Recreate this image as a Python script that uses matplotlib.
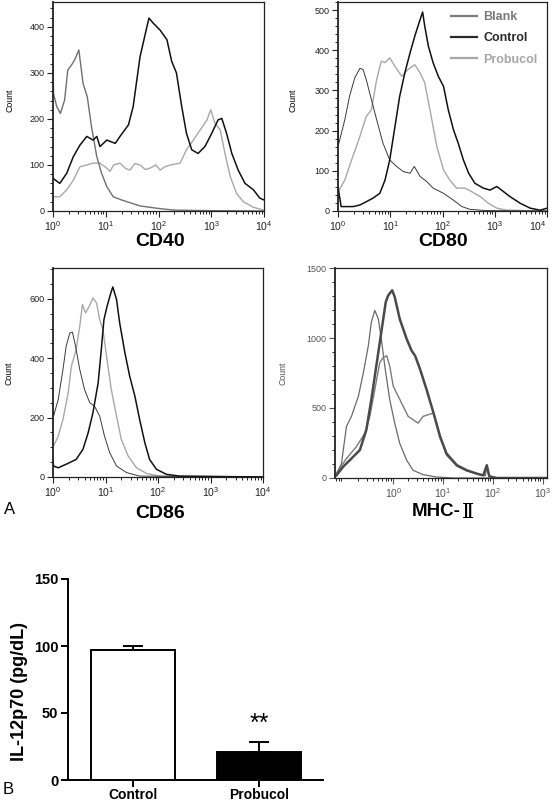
import numpy as np
import matplotlib.pyplot as plt
from matplotlib.lines import Line2D
from matplotlib.ticker import MultipleLocator, LogLocator, NullFormatter, FixedLocator

plt.rcParams['font.family'] = ['Liberation Sans', 'DejaVu Sans']

# ---- flow cytometry histograms: log10(intensity) and count ----
cd40_blank_lx = [0.0, 0.01, 0.07, 0.14, 0.22, 0.28, 0.35, 0.41, 0.49, 0.57, 0.65, 0.73, 0.83, 0.92, 1.02, 1.14, 1.30, 1.46, 1.65, 1.97, 2.28, 2.79, 4.0]
cd40_blank_n = [335, 255, 227, 212, 241, 306, 317, 328, 350, 277, 248, 183, 118, 82, 53, 31, 24, 18, 11, 6, 2, 1, 0]
cd40_ctrl_lx = [0.0, 0.13, 0.26, 0.385, 0.51, 0.64, 0.76, 0.83, 0.89, 1.02, 1.18, 1.27, 1.43, 1.52, 1.65, 1.78, 1.82, 1.90, 2.03, 2.16, 2.25, 2.34, 2.44, 2.53, 2.63, 2.75, 2.88, 3.01, 3.13, 3.20, 3.29, 3.39, 3.51, 3.64, 3.80, 3.92, 4.0]
cd40_ctrl_n = [71, 60, 82, 118, 143, 162, 154, 162, 140, 154, 147, 162, 187, 227, 335, 400, 419, 408, 393, 372, 325, 300, 227, 169, 133, 125, 140, 169, 198, 201, 169, 125, 89, 60, 46, 28, 24]
cd40_prob_lx = [0.0, 0.13, 0.26, 0.385, 0.51, 0.64, 0.76, 0.89, 1.0, 1.08, 1.15, 1.27, 1.38, 1.46, 1.55, 1.65, 1.75, 1.84, 1.95, 2.03, 2.12, 2.22, 2.41, 2.53, 2.66, 2.79, 2.92, 2.99, 3.07, 3.17, 3.26, 3.36, 3.48, 3.61, 3.80, 3.99]
cd40_prob_n = [31, 31, 46, 67, 96, 100, 104, 104, 95, 86, 100, 104, 92, 89, 103, 100, 90, 93, 100, 89, 96, 100, 104, 133, 154, 176, 198, 220, 191, 176, 125, 75, 38, 20, 8, 2]

cd80_blank_lx = [0.0, 0.01, 0.13, 0.22, 0.32, 0.42, 0.48, 0.54, 0.64, 0.74, 0.86, 0.99, 1.12, 1.25, 1.38, 1.46, 1.57, 1.70, 1.82, 2.02, 2.21, 2.37, 2.53, 2.85, 4.0]
cd80_blank_n = [330, 165, 227, 285, 331, 355, 352, 327, 277, 227, 169, 127, 111, 98, 94, 111, 86, 73, 57, 44, 27, 11, 4, 1, 0]
cd80_ctrl_lx = [0.0, 0.06, 0.29, 0.42, 0.54, 0.67, 0.80, 0.90, 0.99, 1.09, 1.18, 1.28, 1.38, 1.47, 1.55, 1.62, 1.66, 1.73, 1.82, 1.92, 2.02, 2.11, 2.21, 2.30, 2.40, 2.50, 2.62, 2.78, 2.91, 3.04, 3.17, 3.29, 3.49, 3.68, 3.87, 4.0]
cd80_ctrl_n = [60, 11, 11, 15, 23, 32, 44, 77, 127, 210, 285, 344, 394, 435, 468, 495, 460, 410, 369, 335, 310, 252, 202, 169, 127, 94, 69, 57, 52, 61, 48, 36, 19, 7, 2, 7]
cd80_prob_lx = [0.02, 0.13, 0.26, 0.42, 0.54, 0.64, 0.74, 0.83, 0.90, 0.99, 1.09, 1.22, 1.34, 1.47, 1.57, 1.66, 1.76, 1.89, 2.02, 2.14, 2.27, 2.43, 2.56, 2.72, 2.88, 3.04, 3.23, 4.0]
cd80_prob_n = [52, 77, 127, 186, 235, 252, 327, 373, 369, 381, 360, 335, 352, 364, 344, 319, 252, 161, 102, 77, 57, 57, 48, 36, 19, 7, 2, 0]

cd86_blank_lx = [0.0, 0.01, 0.10, 0.19, 0.25, 0.32, 0.37, 0.43, 0.51, 0.60, 0.70, 0.79, 0.89, 0.98, 1.08, 1.21, 1.40, 1.65, 4.0]
cd86_blank_n = [230, 205, 261, 362, 440, 485, 488, 440, 362, 295, 250, 239, 205, 138, 82, 37, 15, 3, 0]
cd86_ctrl_lx = [0.0, 0.01, 0.10, 0.25, 0.44, 0.57, 0.67, 0.76, 0.86, 0.92, 0.97, 1.03, 1.11, 1.14, 1.21, 1.27, 1.37, 1.46, 1.56, 1.65, 1.75, 1.84, 1.97, 2.16, 2.41, 4.0]
cd86_ctrl_n = [60, 37, 31, 43, 59, 93, 149, 216, 317, 429, 530, 575, 625, 640, 598, 519, 418, 340, 272, 194, 115, 59, 26, 9, 3, 0]
cd86_prob_lx = [0.0, 0.01, 0.10, 0.19, 0.29, 0.35, 0.44, 0.51, 0.56, 0.62, 0.69, 0.76, 0.83, 0.89, 0.95, 1.02, 1.11, 1.21, 1.30, 1.43, 1.59, 1.78, 2.03, 4.0]
cd86_prob_n = [150, 104, 138, 194, 284, 373, 429, 508, 581, 553, 575, 603, 586, 530, 497, 407, 295, 205, 127, 71, 31, 12, 3, 0]

mhc_blank_lx = [-1.14, -1.04, -0.94, -0.84, -0.70, -0.60, -0.50, -0.44, -0.37, -0.30, -0.23, -0.17, -0.07, 0.03, 0.13, 0.27, 0.40, 0.60, 0.87, 1.21, 3.09]
mhc_blank_n = [31, 103, 368, 440, 584, 752, 945, 1113, 1197, 1137, 969, 800, 560, 392, 248, 127, 55, 24, 7, 0, 0]
mhc_ctrl_lx = [-1.14, -1.01, -0.84, -0.67, -0.54, -0.44, -0.34, -0.23, -0.15, -0.10, -0.02, 0.03, 0.13, 0.27, 0.37, 0.44, 0.54, 0.67, 0.81, 0.94, 1.07, 1.28, 1.48, 1.68, 1.81, 1.88, 1.93, 2.08, 3.09]
mhc_ctrl_n = [19, 79, 139, 200, 344, 560, 800, 1065, 1257, 1305, 1341, 1293, 1137, 993, 909, 873, 776, 632, 464, 296, 175, 91, 55, 31, 19, 91, 12, 0, 0]
mhc_prob_lx = [-1.14, -0.94, -0.74, -0.57, -0.47, -0.37, -0.27, -0.20, -0.13, -0.07, 0.0, 0.10, 0.20, 0.30, 0.40, 0.50, 0.60, 0.70, 0.81, 0.87, 0.97, 1.07, 1.28, 1.48, 1.74, 1.85, 1.88, 1.93, 2.08, 3.09]
mhc_prob_n = [36, 139, 224, 320, 440, 632, 824, 861, 873, 800, 656, 584, 512, 440, 416, 392, 440, 452, 464, 392, 272, 163, 84, 50, 24, 17, 79, 12, 0, 0]

# ---- IL-12p70 bar chart ----
groups = ['Control', 'Probucol']
il12_mean = [97, 21]
il12_err = [3, 7.5]

W, H = 553, 802
fig = plt.figure(figsize=(W / 100, H / 100), dpi=100)


def box(l, t, r, b):
    return [l / W, 1 - b / H, (r - l) / W, (b - t) / H]


def flow_axes(rect, ymax, ymaj, ymin, xlo, xhi, tcol='#222222'):
    ax = fig.add_axes(rect)
    ax.set_xscale('log')
    ax.set_xlim(10 ** xlo, 10 ** xhi)
    ax.set_ylim(0, ymax)
    ax.yaxis.set_major_locator(MultipleLocator(ymaj))
    ax.yaxis.set_minor_locator(MultipleLocator(ymin))
    ax.xaxis.set_major_locator(FixedLocator([1, 10, 100, 1000, 10000]))
    ax.xaxis.set_minor_locator(LogLocator(base=10, subs=np.arange(2, 10), numticks=10))
    ax.xaxis.set_minor_formatter(NullFormatter())
    ax.tick_params(axis='y', direction='out', length=4, width=0.8, labelsize=6.5, pad=2, colors=tcol)
    ax.tick_params(axis='x', direction='out', length=4, width=0.8, labelsize=7.5, pad=2, colors=tcol)
    ax.tick_params(which='minor', length=2.2, width=0.6)
    for s in ax.spines.values():
        s.set_linewidth(0.9)
        s.set_color('#222222')
    ax.spines['left'].set_linewidth(1.3)
    return ax


c_blank, c_ctrl, c_prob = '#707070', '#111111', '#a8a8a8'

# CD40
ax = flow_axes(box(53, 2, 264, 211), 454, 100, 20, 0, 4)
ax.plot(10 ** np.array(cd40_prob_lx), cd40_prob_n, color=c_prob, lw=1.0)
ax.plot(10 ** np.array(cd40_blank_lx), cd40_blank_n, color=c_blank, lw=1.0)
ax.plot(10 ** np.array(cd40_ctrl_lx), cd40_ctrl_n, color=c_ctrl, lw=1.1)
fig.text(10 / W, 1 - 100 / H, 'Count', rotation=90, ha='center', va='center', fontsize=6.3)
fig.text(160 / W, 1 - 242 / H, 'CD40', ha='center', va='center', fontsize=14, fontweight='bold')

# CD80
ax = flow_axes(box(338, 2, 547, 211), 520, 100, 20, 0, 4)
ax.plot(10 ** np.array(cd80_prob_lx), cd80_prob_n, color=c_prob, lw=1.0)
ax.plot(10 ** np.array(cd80_blank_lx), cd80_blank_n, color='#3a3a3a', lw=0.7)
ax.plot(10 ** np.array(cd80_ctrl_lx), cd80_ctrl_n, color=c_ctrl, lw=1.1)
fig.canvas.draw()
ax.get_xticklabels()[-1].set_horizontalalignment('right')
fig.text(293 / W, 1 - 100 / H, 'Count', rotation=90, ha='center', va='center', fontsize=6.3)
fig.text(443 / W, 1 - 242 / H, 'CD80', ha='center', va='center', fontsize=14, fontweight='bold')

leg_labels = ['Blank', 'Control', 'Probucol']
leg_cols = ['#7a7a7a', '#2a2a2a', '#a6a6a6']
handles = [Line2D([], [], color=c, lw=1.6) for c in leg_cols]
leg = ax.legend(handles, leg_labels, loc='upper left', bbox_to_anchor=(451 / W, 1 - 11 / H),
                bbox_transform=fig.transFigure, frameon=False, borderpad=0, borderaxespad=0,
                handlelength=2.1, handletextpad=0.5, labelspacing=0.75,
                prop={'weight': 'bold', 'size': 9})
for t, c in zip(leg.get_texts(), leg_cols):
    t.set_color(c)

# CD86
ax = flow_axes(box(53, 268, 263, 477), 704, 200, 50, 0, 4)
ax.plot(10 ** np.array(cd86_prob_lx), cd86_prob_n, color=c_prob, lw=1.0)
ax.plot(10 ** np.array(cd86_blank_lx), cd86_blank_n, color='#3a3a3a', lw=0.7)
ax.plot(10 ** np.array(cd86_ctrl_lx), cd86_ctrl_n, color=c_ctrl, lw=1.1)
fig.text(9 / W, 1 - 373 / H, 'Count', rotation=90, ha='center', va='center', fontsize=6.3)
fig.text(160 / W, 1 - 513 / H, 'CD86', ha='center', va='center', fontsize=14, fontweight='bold')
fig.text(10 / W, 1 - 510 / H, 'A', ha='center', va='center', fontsize=12)

# MHC-II
ax = flow_axes(box(335, 268, 547, 478), 1500, 500, 100, -1.17, 3.09, tcol='#555555')
ax.xaxis.set_major_locator(FixedLocator([1, 10, 100, 1000]))
ax.plot(10 ** np.array(mhc_blank_lx), mhc_blank_n, color='#6a6a6a', lw=0.9)
ax.plot(10 ** np.array(mhc_prob_lx), mhc_prob_n, color='#7a7a7a', lw=1.0)
ax.plot(10 ** np.array(mhc_ctrl_lx), mhc_ctrl_n, color='#4a4a4a', lw=1.8)
fig.text(283 / W, 1 - 373 / H, 'Count', rotation=90, ha='center', va='center', fontsize=6.3, color='#555555')
fig.text(461 / W, 1 - 512 / H, 'MHC-', ha='right', va='center', fontsize=13.5, fontweight='bold')
fig.text(462 / W, 1 - 512 / H, '\u2161', ha='left', va='center', fontsize=15, family='DejaVu Serif')

# B: bar chart
ax = fig.add_axes(box(68, 579, 323, 780))
x = np.arange(len(groups))
ax.bar(x, il12_mean, width=0.667, color=['white', 'black'], edgecolor='black', linewidth=1.4, zorder=3)
ax.errorbar(x, il12_mean, yerr=[[0, 0], il12_err], fmt='none', ecolor='black',
            elinewidth=1.4, capsize=7, capthick=1.4, zorder=2)
ax.set_xlim(-0.516, 1.504)
ax.set_ylim(0, 150)
ax.set_yticks([0, 50, 100, 150])
ax.set_xticks(x)
ax.set_xticklabels(groups)
for s in ['top', 'right']:
    ax.spines[s].set_visible(False)
for s in ['left', 'bottom']:
    ax.spines[s].set_linewidth(1.4)
ax.tick_params(direction='out', length=5, width=1.4)
ax.tick_params(axis='y', labelsize=10.5, pad=2)
ax.tick_params(axis='x', labelsize=10, pad=0.5)
for lab in ax.get_xticklabels() + ax.get_yticklabels():
    lab.set_fontweight('bold')
ax.set_ylabel('IL-12p70 (pg/dL)', fontsize=13, fontweight='bold')
ax.yaxis.set_label_coords(-0.157, 0.44)
ax.text(1, 42, '**', ha='center', va='center', fontsize=18)
fig.text(8 / W, 1 - 790 / H, 'B', ha='center', va='center', fontsize=12)

fig.savefig('out.png', dpi=100)
